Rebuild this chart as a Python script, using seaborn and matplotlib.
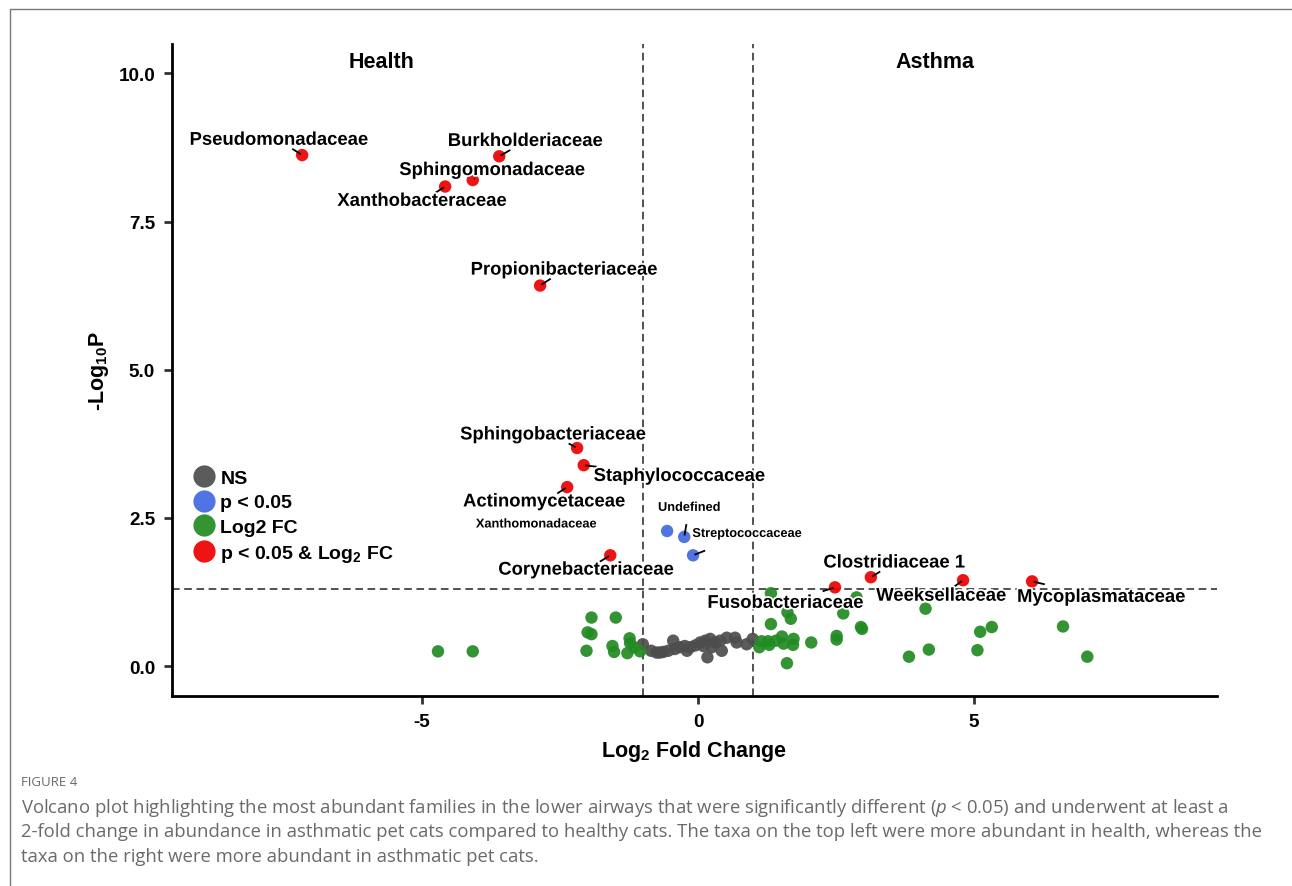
import numpy as np
import pandas as pd
import matplotlib
matplotlib.use("Agg")
import matplotlib.pyplot as plt
import matplotlib.patheffects as pe
from matplotlib.lines import Line2D
import seaborn as sns

# ---- data: log2 fold change and -log10 p per bacterial family ----
ns_fc = [-1.00, -0.85, -0.75, -0.69, -0.63, -0.54, -0.45, -0.42, -0.33, -0.24,
         -0.20, -0.14, -0.05, 0.04, 0.10, 0.13, 0.17, 0.22, 0.25, 0.31,
         0.40, 0.43, 0.52, 0.67, 0.70, 0.88, 0.99]
ns_p = [0.37, 0.26, 0.23, 0.23, 0.24, 0.26, 0.43, 0.29, 0.32, 0.34,
        0.26, 0.32, 0.35, 0.40, 0.34, 0.43, 0.15, 0.46, 0.32, 0.40,
        0.43, 0.26, 0.48, 0.48, 0.40, 0.37, 0.46]

fc_only_fc = [-4.71, -4.08, -1.93, -1.49, -2.00, -1.93, -2.02, -1.55, -1.52, -1.24,
              -1.23, -1.28, -1.16, -1.05,
              1.32, 2.87, 1.62, 1.68, 2.63, 1.32, 2.95, 2.97, 2.51, 2.51,
              1.11, 1.15, 1.27, 1.29, 1.41, 1.52, 1.55, 1.73, 1.72, 2.05, 1.61,
              4.12, 5.11, 5.32, 6.61, 3.82, 4.18, 5.06, 7.05]
fc_only_p = [0.25, 0.25, 0.82, 0.82, 0.57, 0.54, 0.26, 0.34, 0.24, 0.47,
             0.39, 0.22, 0.32, 0.25,
             1.23, 1.16, 0.91, 0.80, 0.89, 0.71, 0.66, 0.63, 0.51, 0.45,
             0.32, 0.42, 0.42, 0.36, 0.43, 0.50, 0.38, 0.46, 0.36, 0.40, 0.05,
             0.97, 0.58, 0.66, 0.67, 0.16, 0.28, 0.27, 0.16]

p_only_names = ["Xanthomonadaceae", "Undefined", "Streptococcaceae"]
p_only_fc = [-0.56, -0.25, -0.09]
p_only_p = [2.28, 2.18, 1.87]

both_names = ["Pseudomonadaceae", "Burkholderiaceae", "Sphingomonadaceae",
              "Xanthobacteraceae", "Propionibacteriaceae", "Sphingobacteriaceae",
              "Staphylococcaceae", "Actinomycetaceae", "Corynebacteriaceae",
              "Clostridiaceae 1", "Fusobacteriaceae", "Weeksellaceae",
              "Mycoplasmataceae"]
both_fc = [-7.17, -3.60, -4.08, -4.58, -2.86, -2.19, -2.07, -2.37, -1.59,
           3.13, 2.48, 4.80, 6.05]
both_p = [8.62, 8.60, 8.20, 8.09, 6.42, 3.68, 3.39, 3.02, 1.87,
          1.50, 1.33, 1.45, 1.43]

# label anchor positions (data units) for the named families
both_label_x = [-7.59, -3.13, -3.73, -5.00, -2.43, -2.63, -0.34, -2.79, -2.03,
                3.55, 1.58, 4.40, 7.30]
both_label_y = [8.87, 8.85, 8.36, 7.84, 6.68, 3.90, 3.20, 2.77, 1.62,
                1.74, 1.06, 1.18, 1.16]
p_only_label_x = [-2.93, -0.16, 0.89]
p_only_label_y = [2.39, 2.67, 2.23]
p_only_linked = [False, True, True]

groups = ["NS", "p < 0.05", "Log2 FC", "p < 0.05 & Log$_2$ FC"]
colors = ["#4D4D4D", "#4169E1", "#228B22", "#EE0000"]

fc_cut = 1.0
p_cut = -np.log10(0.05)

df = pd.concat([
    pd.DataFrame({"log2fc": ns_fc, "nlogp": ns_p, "group": groups[0]}),
    pd.DataFrame({"log2fc": fc_only_fc, "nlogp": fc_only_p, "group": groups[2]}),
    pd.DataFrame({"log2fc": p_only_fc, "nlogp": p_only_p, "group": groups[1]}),
    pd.DataFrame({"log2fc": both_fc, "nlogp": both_p, "group": groups[3]}),
], ignore_index=True)

# ---- styling ----
sns.set_theme(style="ticks")
plt.rcParams["font.family"] = ["Liberation Sans", "DejaVu Sans"]
plt.rcParams["font.weight"] = "bold"
plt.rcParams["text.color"] = "black"
plt.rcParams["axes.labelcolor"] = "black"
plt.rcParams["axes.unicode_minus"] = False
plt.rcParams["mathtext.default"] = "regular"
plt.rcParams["mathtext.fontset"] = "custom"
plt.rcParams["mathtext.it"] = "Open Sans:style=italic:weight=normal"

fig = plt.figure(figsize=(12.92, 8.87), dpi=100)
ax = fig.add_axes([0.133, 0.214, 0.809, 0.735])

sns.scatterplot(data=df, x="log2fc", y="nlogp", hue="group", hue_order=groups,
                palette=dict(zip(groups, colors)), s=80, alpha=0.92,
                edgecolor="none", linewidth=0, legend=False, ax=ax, zorder=3)

# cut-off lines
for v in (-fc_cut, fc_cut):
    ax.axvline(v, color="#222222", lw=1.1, ls=(0, (5, 3)), zorder=1)
ax.axhline(p_cut, color="#222222", lw=1.1, ls=(0, (5, 3)), zorder=1)

ax.set_xlim(-9.53, 9.40)
ax.set_ylim(-0.506, 10.49)
ax.set_xticks([-5, 0, 5])
ax.set_yticks([0, 2.5, 5.0, 7.5, 10.0])
ax.set_yticklabels(["0.0", "2.5", "5.0", "7.5", "10.0"])
for s in ("top", "right"):
    ax.spines[s].set_visible(False)
for s in ("left", "bottom"):
    ax.spines[s].set_linewidth(2.0)
    ax.spines[s].set_color("black")
ax.tick_params(axis="both", length=6, width=2.0, color="#333333",
               labelsize=13.6, labelcolor="black", pad=6)
for lab in ax.get_xticklabels() + ax.get_yticklabels():
    lab.set_fontweight("bold")

ax.set_xlabel("Log$_2$ Fold Change", fontsize=15.5, fontweight="bold", labelpad=6)
ax.set_ylabel("-Log$_{10}$P", fontsize=15.5, fontweight="bold", labelpad=5)

halo = [pe.withStroke(linewidth=2.5, foreground="white")]

# labels with repel-style connectors: a short segment leaving the point in the
# direction of the label centre, stopping at the label box
labels = []
for name, x, y, lx, ly in zip(both_names, both_fc, both_p, both_label_x, both_label_y):
    labels.append((name, x, y, lx, ly, 13.3, True))
for name, x, y, lx, ly, linked in zip(p_only_names, p_only_fc, p_only_p,
                                      p_only_label_x, p_only_label_y, p_only_linked):
    labels.append((name, x, y, lx, ly, 9.2, linked))

max_seg = 13.0  # px
fig.canvas.draw()
renderer = fig.canvas.get_renderer()
to_data = ax.transData.inverted()
for name, x, y, lx, ly, fs, linked in labels:
    txt = ax.text(lx, ly, name, ha="center", va="center", fontsize=fs,
                  fontweight="bold", color="black", path_effects=halo, zorder=5)
    if not linked:
        continue
    bb = txt.get_window_extent(renderer)
    P = np.array(ax.transData.transform((x, y)))
    C = np.array(ax.transData.transform((lx, ly)))
    d = C - P
    length = float(np.hypot(*d))
    ts = []
    for k, (lo, hi) in enumerate(((bb.x0, bb.x1), (bb.y0, bb.y1))):
        if P[k] < lo:
            ts.append((lo - P[k]) / d[k])
        elif P[k] > hi:
            ts.append((hi - P[k]) / d[k])
        else:
            ts.append(0.0)
    t_enter = max(ts)
    reach = t_enter * length
    if reach <= 1.0:
        continue
    u = d / length
    start = P + u * 1.5
    end = P + u * min(reach, max_seg)
    (sx, sy), (ex, ey) = to_data.transform([start, end])
    ax.plot([sx, ex], [sy, ey], color="black", lw=1.3,
            solid_capstyle="butt", zorder=4)

ax.text(-5.74, 10.2, "Health", ha="center", va="center", fontsize=15.5,
        fontweight="bold", color="black")
ax.text(4.29, 10.2, "Asthma", ha="center", va="center", fontsize=15.5,
        fontweight="bold", color="black")

handles = [Line2D([], [], marker="o", ls="none", markersize=16,
                  markerfacecolor=c, markeredgecolor="none", alpha=0.92)
           for c in colors]
leg = ax.legend(handles, groups, loc="upper left", bbox_to_anchor=(0.011, 0.36),
                frameon=False, handletextpad=0.2, labelspacing=0.36,
                borderaxespad=0, handlelength=1.3, labelcolor="black",
                prop={"size": 14, "weight": "bold"})

# caption
cap_color = "#6a6a6a"
fig.text(21 / 1292, 1 - 782 / 887, "FIGURE 4", fontsize=9.5, color=cap_color,
         family="Open Sans", fontweight="normal", va="center")
caption = [
    "Volcano plot highlighting the most abundant families in the lower airways that were significantly different ($\\mathit{p}$ < 0.05) and underwent at least a",
    "2-fold change in abundance in asthmatic pet cats compared to healthy cats. The taxa on the top left were more abundant in health, whereas the",
    "taxa on the right were more abundant in asthmatic pet cats.",
]
for i, line in enumerate(caption):
    fig.text(21 / 1292, 1 - (808 + 24.5 * i) / 887, line, fontsize=13.3, color=cap_color,
             family="Open Sans", fontweight="normal", va="center")

# card border
fig.add_artist(Line2D([10 / 1292, 10 / 1292], [0, 1 - 10 / 887],
                      transform=fig.transFigure, color="#777777", lw=1))
fig.add_artist(Line2D([10 / 1292, 1], [1 - 10 / 887, 1 - 10 / 887],
                      transform=fig.transFigure, color="#777777", lw=1))

fig.savefig("out.png", dpi=100)
